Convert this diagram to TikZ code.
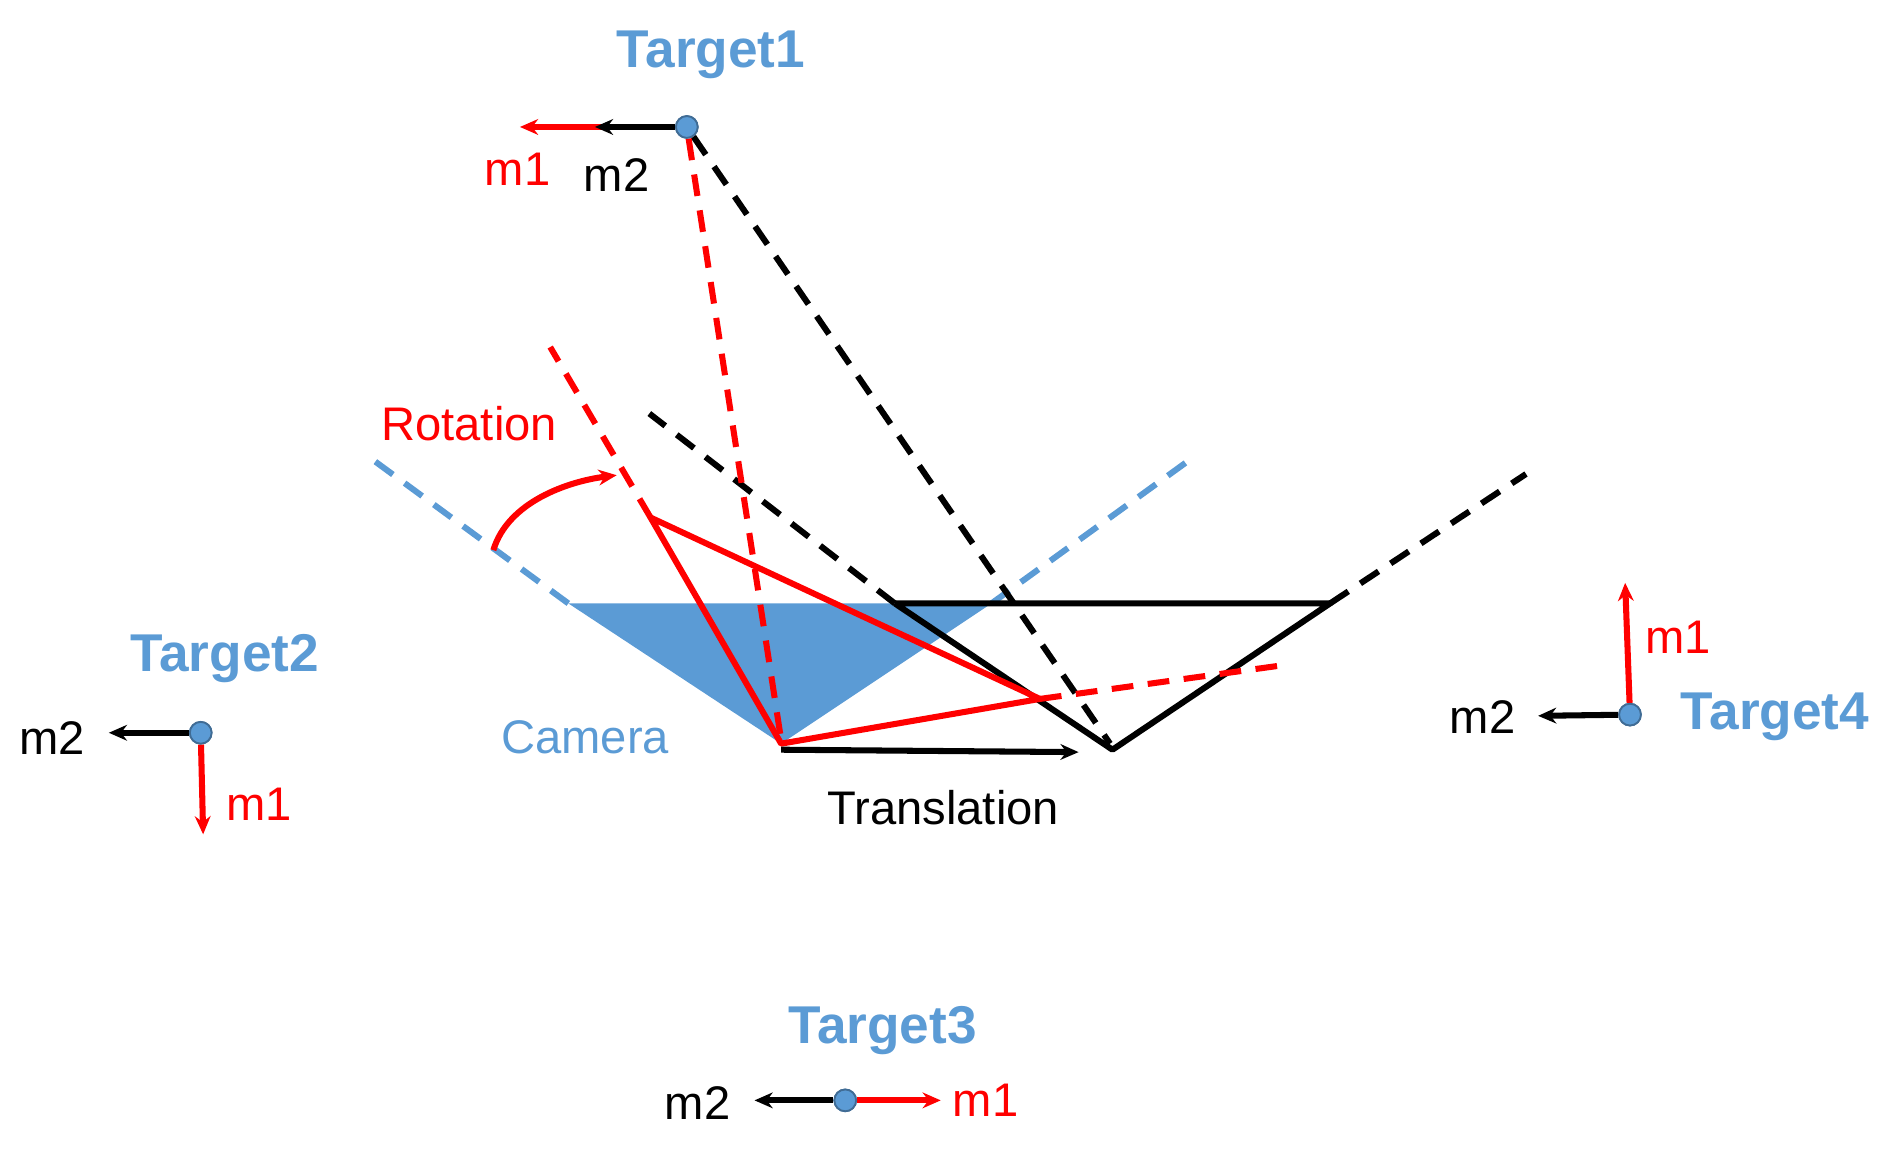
\documentclass[tikz,border=0pt]{standalone}
\usepackage{fontspec}
\setmainfont{Liberation Sans}
\usetikzlibrary{arrows.meta}
\definecolor{tb}{RGB}{91,155,213}
\definecolor{rd}{RGB}{255,0,0}
\begin{document}
\begin{tikzpicture}[x=1pt,y=-1pt,
  lbl/.style={font=\fontsize{39}{42}\selectfont,inner sep=0},
  tgt/.style={font=\fontsize{44}{48}\selectfont\bfseries,text=tb,inner sep=0},
  arr/.style={line width=5pt,-{Stealth[length=15pt,width=13pt]}},
  dsh/.style={line width=5pt,dash pattern=on 18pt off 12pt},
  sol/.style={line width=5pt},
  dot/.style={circle,fill=tb,draw=tb!70!black,line width=1.5pt,minimum size=18pt,inner sep=0}]
\useasboundingbox (0,0) rectangle (1568,950);
% camera
\coordinate (cA) at (470,499); \coordinate (cB) at (820,499); \coordinate (cC) at (646,615);
\fill[tb] (cA) -- (cB) -- (cC) -- cycle;
\coordinate (bA) at (308,380); \coordinate (bB) at (987,378);
\draw[dsh,tb] (cA) -- (bA);
\draw[dsh,tb] (cB) -- (bB);
\node[lbl,text=tb] (cam) at (484,610) {Camera};
% targets
\node[dot] (t1) at (568,105) {};
\node[dot] (t2) at (166,606) {};
\node[dot] (t3) at (699,910) {};
\node[dot] (t4) at (1348,591) {};
% black triangle
\coordinate (kA) at (740,499); \coordinate (kB) at (1100,499); \coordinate (kC) at (920,620);
\coordinate (kD) at (537,342); \coordinate (kE) at (1262,392); \coordinate (kF) at (918,615);
\draw[sol,line join=round] (kA) -- (kB) -- (kC) -- (kA);
\draw[dsh] (kA) -- (kD);
\draw[dsh] (kB) -- (kE);
\draw[dsh] (t1) -- (kF);
% red triangle
\coordinate (rA) at (538,428); \coordinate (rB) at (646,615); \coordinate (rC) at (860,578);
\coordinate (rD) at (455,287); \coordinate (rE) at (1062,550); \coordinate (rF) at (646,612);
\draw[sol,rd,line join=round] (rA) -- (rB) -- (rC) -- cycle;
\draw[dsh,rd] (rA) -- (rD);
\draw[dsh,rd] (rC) -- (rE);
\draw[dsh,rd] (t1) -- (rF);
% translation
\coordinate (tr1) at (646,620); \coordinate (tr2) at (892,622);
\draw[arr] (tr1) -- (tr2);
\node[lbl] (trl) at (780,668) {Translation};
% rotation
\coordinate (ro1) at (408,455); \coordinate (ro2) at (510,393);
\draw[arr,rd] (ro1) .. controls (420,415) and (470,398) .. (ro2);
\node[lbl,text=rd] (rol) at (388,350) {Rotation};
% target1
\coordinate (t1r) at (430,105); \coordinate (t1k) at (492,105);
\draw[arr,rd] (t1) -- (t1r);
\draw[arr] (t1) -- (t1k);
\node[tgt] (t1l) at (588,45) {Target1};
\node[lbl,text=rd] (t1m1) at (428,140) {m1};
\node[lbl] (t1m2) at (510,145) {m2};
% target2
\coordinate (t2k) at (90,606); \coordinate (t2r) at (168,690);
\draw[arr] (t2) -- (t2k);
\draw[arr,rd] (t2) -- (t2r);
\node[tgt] (t2l) at (186,545) {Target2};
\node[lbl] (t2m2) at (43,610) {m2};
\node[lbl,text=rd] (t2m1) at (214,665) {m1};
% target3
\coordinate (t3k) at (624,910); \coordinate (t3r) at (778,910);
\draw[arr] (t3) -- (t3k);
\draw[arr,rd] (t3) -- (t3r);
\node[tgt] (t3l) at (730,852) {Target3};
\node[lbl] (t3m2) at (577,912) {m2};
\node[lbl,text=rd] (t3m1) at (815,910) {m1};
% target4
\coordinate (t4k) at (1272,592); \coordinate (t4r) at (1344,482);
\draw[arr] (t4) -- (t4k);
\draw[arr,rd] (t4) -- (t4r);
\node[tgt] (t4l) at (1468,593) {Target4};
\node[lbl] (t4m2) at (1226,593) {m2};
\node[lbl,text=rd] (t4m1) at (1388,527) {m1};
% redraw dots on top
\node[dot] at (t1) {};\node[dot] at (t2) {};\node[dot] at (t3) {};\node[dot] at (t4) {};
\end{tikzpicture}
\end{document}
